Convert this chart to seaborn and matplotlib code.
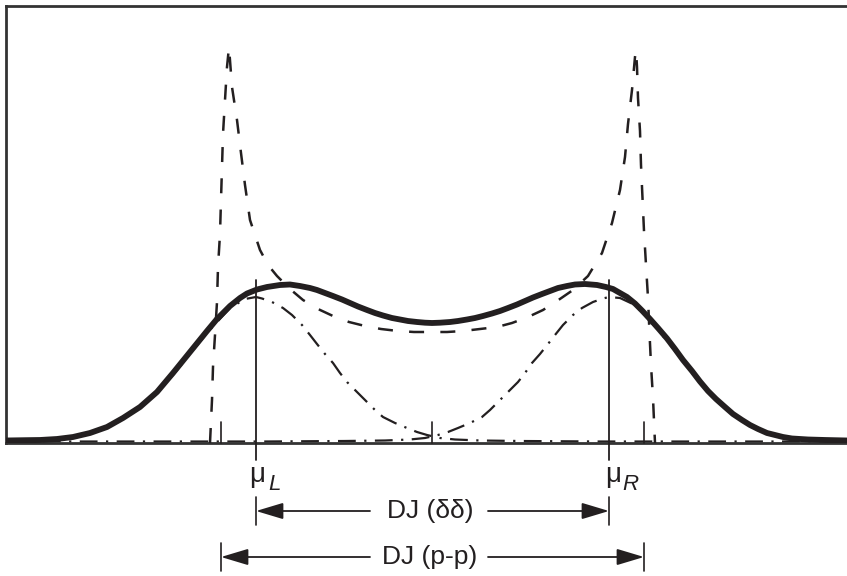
import matplotlib
matplotlib.use("Agg")
import matplotlib.pyplot as plt
import seaborn as sns
import pandas as pd
from matplotlib import font_manager

# ---------------- data (x in arbitrary time units, y in arbitrary density units) -------------
# Solid curve: total deterministic-jitter PDF convolved with random jitter
solid_x = [6, 25, 40, 57, 73, 90, 107, 123, 140, 157, 173, 190, 207, 217, 230, 240, 247,
           257, 267, 280, 290, 300, 310, 317, 325, 333, 342, 350, 358, 367, 375, 383, 392,
           400, 408, 417, 425, 432, 440, 450, 458, 467, 475, 483, 492, 500, 508, 517, 525,
           533, 542, 550, 558, 567, 575, 585, 597, 606, 613, 620, 627, 635, 642, 650, 658,
           667, 675, 683, 692, 700, 708, 716, 725, 733, 742, 750, 758, 767, 775, 783, 792,
           808, 825, 847]
solid_y = [2.5, 2.8, 3, 4, 6, 10, 16, 25, 36, 51, 70, 91, 112, 124, 137, 145, 149.5,
           153.5, 156, 158, 158.5, 157, 155, 153, 150, 147, 143.5, 140, 136.5, 133, 130, 127.5, 125,
           123.5, 122, 121, 120.3, 120, 120.3, 121, 122, 123.5, 125, 127, 129.5, 132, 135, 138.5, 142,
           145.5, 149, 152, 155, 157, 158.5, 159, 158, 156, 154, 150, 146, 139.5, 132.5, 124, 115,
           104.5, 94, 83, 72, 61.5, 52, 44, 36, 29, 23, 18, 14, 10, 8, 6, 4.5,
           3.5, 3, 2.5]

# Dashed curve: sinusoidal jitter PDF
sine_x = [210, 212, 213, 215, 217, 218, 220, 221, 222, 223, 225, 227, 229, 232, 237, 241,
          245, 250, 260, 268, 277, 290, 303, 318, 333, 349, 365, 381, 398, 414, 430, 447,
          463, 480, 497, 512, 528, 543, 557, 573, 588, 602, 612, 620, 625, 628, 632, 635,
          636, 637, 638, 640, 641, 642.5, 644, 646, 648, 649.5, 651, 653, 654.5, 655]
sine_y = [0, 43, 76, 108, 141, 176, 209, 243, 276, 309, 343, 376, 396, 356, 323, 290,
          258, 223, 193, 178, 167, 154, 143, 134, 127, 121, 117, 114, 112, 111, 111, 111,
          112, 114, 116, 120, 126, 133, 142, 153, 167, 190, 220, 253, 286, 319, 353, 386,
          393, 376, 345, 312, 278, 245, 212, 178, 145, 110, 78, 45, 11, 0]

# Dash-dot curves: dual-Dirac Gaussians centred on mu_L and mu_R
gl_x = [6, 40, 73, 107, 140, 173, 207, 230, 245, 256, 262, 272, 283, 292, 302, 310, 317,
        325, 333, 340, 347, 357, 367, 375, 383, 395, 407, 417, 427, 440, 455, 480, 520,
        600, 847]
gl_y = [1.5, 2.5, 5, 15, 35, 68, 110, 135, 144, 146, 144.5, 141, 135, 128, 118, 108, 99,
        89, 80, 70, 61, 51, 41, 33, 26, 20, 15, 11, 8, 5, 3.5, 2.5, 2,
        1.5, 1.5]
gr_x = [6, 265, 345, 385, 410, 425, 438, 448, 458, 470, 482, 490, 498, 508, 518, 525,
        532, 540, 548, 555, 563, 573, 582, 593, 603, 609, 620, 635, 648, 658, 667, 675,
        683, 692, 700, 708, 716, 725, 733, 742, 750, 758, 767, 775, 783, 792, 808, 825, 847]
gr_y = [1.5, 1.5, 2, 2.5, 3.5, 5, 8, 11, 15, 20, 26, 33, 41, 51, 61, 70,
        80, 89, 99, 108, 118, 128, 135, 141, 144.5, 146, 145, 138, 124, 113, 102, 92,
        82, 70, 60, 51, 43, 35, 29, 23, 18, 14, 10, 7.5, 5.5, 4.5, 3, 2, 1.5]

MU_L, MU_R = 256, 609          # dual-Dirac means
PP_L, PP_R = 221, 644          # peak-to-peak extent of deterministic jitter
CENTER = 432
label_dd = "DJ (δδ)"
label_pp = "DJ (p-p)"

# ---------------- style ----------------
sns.set_theme(style="white")
names = {f.name for f in font_manager.fontManager.ttflist}
fam = "Liberation Sans" if "Liberation Sans" in names else "DejaVu Sans"
plt.rcParams["font.family"] = [fam, "DejaVu Sans"]

INK = "#231f20"

fig = plt.figure(figsize=(8.47, 5.76), dpi=100)
ax = fig.add_axes([6 / 847, 133 / 576, 841 / 847, 437 / 576])
ax.set_xlim(6, 847)
ax.set_ylim(0, 437)

df_solid = pd.DataFrame({"x": solid_x, "y": solid_y})
df_sine = pd.DataFrame({"x": sine_x, "y": sine_y})
df_gl = pd.DataFrame({"x": gl_x, "y": gl_y})
df_gr = pd.DataFrame({"x": gr_x, "y": gr_y})

dashdot = (0, (8, 3.8, 1.0, 3.8))
sns.lineplot(data=df_gl, x="x", y="y", ax=ax, color=INK, lw=1.6, linestyle=dashdot,
             sort=False, estimator=None, zorder=2)
sns.lineplot(data=df_gr, x="x", y="y", ax=ax, color=INK, lw=1.6, linestyle=dashdot,
             sort=False, estimator=None, zorder=2)
sns.lineplot(data=df_sine, x="x", y="y", ax=ax, color=INK, lw=1.8, linestyle=(0, (6, 6.5)),
             sort=False, estimator=None, zorder=3)
sns.lineplot(data=df_solid, x="x", y="y", ax=ax, color=INK, lw=4.2,
             sort=False, estimator=None, zorder=4, solid_joinstyle="round")

# spines / ticks
for s in ["left", "top", "bottom"]:
    ax.spines[s].set_color("#333333")
    ax.spines[s].set_linewidth(2.0)
ax.spines["right"].set_visible(False)
ax.set_xticks([])
ax.set_yticks([])
ax.set_xlabel("")
ax.set_ylabel("")
ax.set_facecolor("white")

# mean markers
for m in (MU_L, MU_R):
    ax.plot([m, m], [163, -17], color=INK, lw=1.3, clip_on=False, zorder=5)
# small baseline ticks
for m in (PP_L, PP_R, CENTER):
    ax.plot([m, m], [0, 21], color=INK, lw=1.2, clip_on=False, zorder=5)

# mu labels
ax.text(MU_L + 1, -39, "μ", ha="center", va="baseline", fontsize=20, color=INK)
ax.text(MU_L + 12, -47, "L", ha="left", va="baseline", fontsize=16, style="italic", color=INK)
ax.text(MU_R + 4, -39, "μ", ha="center", va="baseline", fontsize=20, color=INK)
ax.text(MU_R + 13, -47, "R", ha="left", va="baseline", fontsize=16, style="italic", color=INK)

# dimension arrows
def dim(x0, x1, yc, label, bar_half=14):
    for xb in (x0, x1):
        ax.plot([xb, xb], [yc + bar_half, yc - bar_half], color=INK, lw=1.2, clip_on=False)
    aprops = dict(arrowstyle="-|>,head_length=1.4,head_width=0.42", lw=1.3, color=INK,
                  shrinkA=0, shrinkB=0)
    ax.annotate("", xy=(x0, yc), xytext=(370, yc), xycoords="data", arrowprops=aprops,
                annotation_clip=False)
    ax.annotate("", xy=(x1, yc), xytext=(488, yc), xycoords="data", arrowprops=aprops,
                annotation_clip=False)
    ax.text(430, yc, label, ha="center", va="center", fontsize=19, color=INK)

dim(MU_L, MU_R, -68, label_dd)
dim(PP_L, PP_R, -114, label_pp)

fig.savefig("out.png", dpi=100, facecolor="white")
